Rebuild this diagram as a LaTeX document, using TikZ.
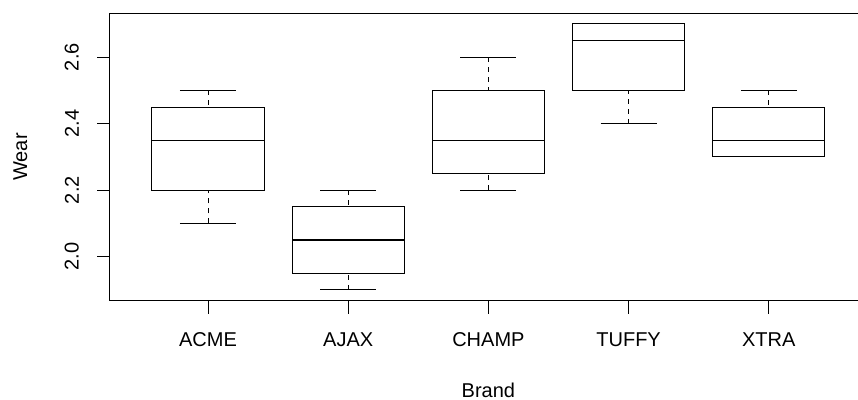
\documentclass[tikz,border=0pt]{standalone}
\usepackage{fontspec}
\setmainfont{Liberation Sans}
\usepackage{tikz}
\usetikzlibrary{positioning}

\begin{document}
\begin{tikzpicture}
                [x=1pt, y=1pt, line width=1pt,
                 lab/.style = {font=\fontsize{20}{24}\selectfont, inner sep=0pt},
                 ticklab/.style = {lab, rotate=90},
                 whisk/.style = {dash pattern=on 5pt off 5pt},
                 med/.style = {line width=1.4pt}]
                \useasboundingbox (0,0) rectangle (858,399);
                \clip (0,0) rectangle (858,399);
                \begin{scope}[shift={(67.8pt,-522.7pt)}, x=140.2pt, y=332.5pt]
                % Frame and axis ticks
                \draw (0.3,1.868) rectangle (5.7,2.732);
                \draw (0.3,2.0) -- ++(-13pt,0);
                \draw (0.3,2.2) -- ++(-13pt,0);
                \draw (0.3,2.4) -- ++(-13pt,0);
                \draw (0.3,2.6) -- ++(-13pt,0);
                \draw (1,1.868) -- ++(0,-13pt);
                \draw (2,1.868) -- ++(0,-13pt);
                \draw (3,1.868) -- ++(0,-13pt);
                \draw (4,1.868) -- ++(0,-13pt);
                \draw (5,1.868) -- ++(0,-13pt);
                % Tick labels
                \node[xshift=-38pt, ticklab] (y20) at (0.3,2.0) {2.0};
                \node[xshift=-38pt, ticklab] (y22) at (0.3,2.2) {2.2};
                \node[xshift=-38pt, ticklab] (y24) at (0.3,2.4) {2.4};
                \node[xshift=-38pt, ticklab] (y26) at (0.3,2.6) {2.6};
                \node[lab, yshift=-39pt] (acme) at (1,1.868) {ACME};
                \node[lab, yshift=-39pt] (ajax) at (2,1.868) {AJAX};
                \node[lab, yshift=-39pt] (champ) at (3,1.868) {CHAMP};
                \node[lab, yshift=-39pt] (tuffy) at (4,1.868) {TUFFY};
                \node[lab, yshift=-39pt] (xtra) at (5,1.868) {XTRA};
                % Axis titles
                \node[lab, yshift=-90pt] (brand) at (3,1.868) {Brand};
                \node[xshift=-89.5pt, ticklab] (wear) at (0.3,2.3) {Wear};
                % ACME
                \draw[whisk] (1,2.1) -- (1,2.2);
                \draw[whisk] (1,2.5) -- (1,2.45);
                \draw (0.8,2.1) -- (1.2,2.1);
                \draw (0.8,2.5) -- (1.2,2.5);
                \draw (0.6,2.2) rectangle (1.4,2.45);
                \draw[med] (0.6,2.35) -- (1.4,2.35);
                % AJAX
                \draw[whisk] (2,1.9) -- (2,1.95);
                \draw[whisk] (2,2.2) -- (2,2.15);
                \draw (1.8,1.9) -- (2.2,1.9);
                \draw (1.8,2.2) -- (2.2,2.2);
                \draw (1.6,1.95) rectangle (2.4,2.15);
                \draw[med] (1.6,2.05) -- (2.4,2.05);
                % CHAMP
                \draw[whisk] (3,2.2) -- (3,2.25);
                \draw[whisk] (3,2.6) -- (3,2.5);
                \draw (2.8,2.2) -- (3.2,2.2);
                \draw (2.8,2.6) -- (3.2,2.6);
                \draw (2.6,2.25) rectangle (3.4,2.5);
                \draw[med] (2.6,2.35) -- (3.4,2.35);
                % TUFFY
                \draw[whisk] (4,2.4) -- (4,2.5);
                \draw (3.8,2.4) -- (4.2,2.4);
                \draw (3.8,2.7) -- (4.2,2.7);
                \draw (3.6,2.5) rectangle (4.4,2.7);
                \draw[med] (3.6,2.65) -- (4.4,2.65);
                % XTRA
                \draw[whisk] (5,2.5) -- (5,2.45);
                \draw (4.8,2.3) -- (5.2,2.3);
                \draw (4.8,2.5) -- (5.2,2.5);
                \draw (4.6,2.3) rectangle (5.4,2.45);
                \draw[med] (4.6,2.35) -- (5.4,2.35);
                \end{scope}
            \end{tikzpicture}
\end{document}
